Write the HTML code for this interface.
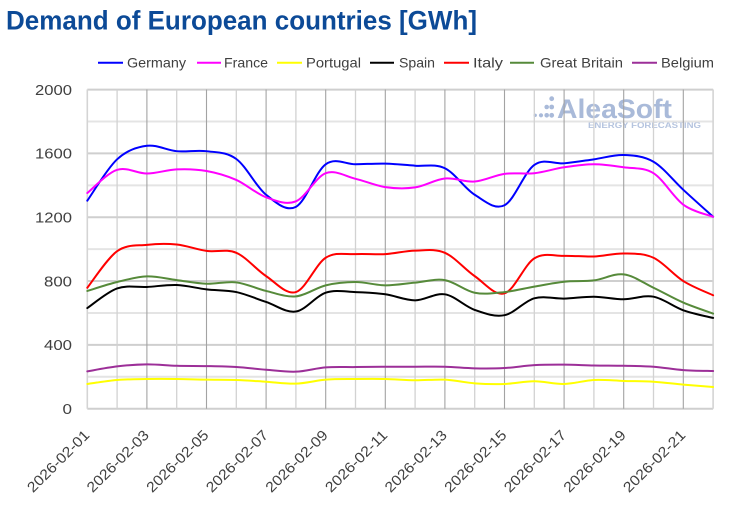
<!DOCTYPE html>
<html>
<head>
<meta charset="utf-8">
<style>
  html,body{margin:0;padding:0;background:#fff;}
  svg{display:block;}
  text{font-family:"Liberation Sans",Arial,sans-serif;}
</style>
</head>
<body>
<svg id="chart" width="730" height="509" viewBox="0 0 730 509" xmlns="http://www.w3.org/2000/svg">
  <rect x="0" y="0" width="730" height="509" fill="#ffffff"/>

  <!-- Title -->
  <text x="6" y="29.3" font-size="27" font-weight="bold" fill="#0c4a97" textLength="471" lengthAdjust="spacingAndGlyphs">Demand of European countries [GWh]</text>

  <!-- Legend -->
  <g font-size="14" fill="#404040">
    <line x1="98" y1="62.7" x2="123" y2="62.7" stroke="#0000ff" stroke-width="2"/>
    <text x="127" y="67.5" textLength="59" lengthAdjust="spacingAndGlyphs">Germany</text>
    <line x1="197" y1="62.7" x2="221" y2="62.7" stroke="#ff00ff" stroke-width="2"/>
    <text x="224" y="67.5" textLength="44" lengthAdjust="spacingAndGlyphs">France</text>
    <line x1="277" y1="62.7" x2="302" y2="62.7" stroke="#ffff00" stroke-width="2"/>
    <text x="306" y="67.5" textLength="55" lengthAdjust="spacingAndGlyphs">Portugal</text>
    <line x1="370" y1="62.7" x2="394" y2="62.7" stroke="#000000" stroke-width="2"/>
    <text x="399" y="67.5" textLength="36" lengthAdjust="spacingAndGlyphs">Spain</text>
    <line x1="444" y1="62.7" x2="469" y2="62.7" stroke="#ff0000" stroke-width="2"/>
    <text x="473" y="67.5" textLength="30" lengthAdjust="spacingAndGlyphs">Italy</text>
    <line x1="510" y1="62.7" x2="534" y2="62.7" stroke="#568a3a" stroke-width="2"/>
    <text x="540" y="67.5" textLength="83" lengthAdjust="spacingAndGlyphs">Great Britain</text>
    <line x1="632" y1="62.7" x2="657" y2="62.7" stroke="#9c2f98" stroke-width="2"/>
    <text x="661" y="67.5" textLength="53" lengthAdjust="spacingAndGlyphs">Belgium</text>
  </g>

  <!-- Watermark -->
  <g fill="#a9bad9">
    <circle cx="551.7" cy="98.7" r="2.4"/>
    <circle cx="546.7" cy="107" r="2.3"/>
    <circle cx="551.7" cy="107" r="2.4"/>
    <circle cx="535.2" cy="115.3" r="1.7"/>
    <circle cx="541" cy="115.3" r="2.1"/>
    <circle cx="546.7" cy="115.3" r="2.3"/>
    <circle cx="551.7" cy="115.3" r="2.4"/>
    <text x="557" y="118" font-size="27" font-weight="bold" textLength="115" lengthAdjust="spacingAndGlyphs">AleaSoft</text>
    <text x="588" y="128.2" font-size="8" font-weight="bold" fill="#b5c4df" textLength="113" lengthAdjust="spacingAndGlyphs">ENERGY FORECASTING</text>
  </g>

  <!-- Gridlines -->
  <g id="grid"></g>

  <!-- Y labels -->
  <g font-size="14.5" fill="#404040" text-anchor="end">
    <text x="72" y="95.2" textLength="37" lengthAdjust="spacingAndGlyphs">2000</text>
    <text x="72" y="158.6" textLength="37" lengthAdjust="spacingAndGlyphs">1600</text>
    <text x="72" y="222.5" textLength="37" lengthAdjust="spacingAndGlyphs">1200</text>
    <text x="72" y="286.3" textLength="28" lengthAdjust="spacingAndGlyphs">800</text>
    <text x="72" y="350.2" textLength="28" lengthAdjust="spacingAndGlyphs">400</text>
    <text x="72" y="414" textLength="9.5" lengthAdjust="spacingAndGlyphs">0</text>
  </g>

  <!-- X labels -->
  <g font-size="14.5" fill="#404040" text-anchor="end">
    <text transform="translate(90.3,436) rotate(-45)" textLength="81" lengthAdjust="spacingAndGlyphs">2026-02-01</text>
    <text transform="translate(149.9,436) rotate(-45)" textLength="81" lengthAdjust="spacingAndGlyphs">2026-02-03</text>
    <text transform="translate(209.5,436) rotate(-45)" textLength="81" lengthAdjust="spacingAndGlyphs">2026-02-05</text>
    <text transform="translate(269.1,436) rotate(-45)" textLength="81" lengthAdjust="spacingAndGlyphs">2026-02-07</text>
    <text transform="translate(328.7,436) rotate(-45)" textLength="81" lengthAdjust="spacingAndGlyphs">2026-02-09</text>
    <text transform="translate(388.3,436) rotate(-45)" textLength="81" lengthAdjust="spacingAndGlyphs">2026-02-11</text>
    <text transform="translate(447.9,436) rotate(-45)" textLength="81" lengthAdjust="spacingAndGlyphs">2026-02-13</text>
    <text transform="translate(507.5,436) rotate(-45)" textLength="81" lengthAdjust="spacingAndGlyphs">2026-02-15</text>
    <text transform="translate(567.1,436) rotate(-45)" textLength="81" lengthAdjust="spacingAndGlyphs">2026-02-17</text>
    <text transform="translate(626.7,436) rotate(-45)" textLength="81" lengthAdjust="spacingAndGlyphs">2026-02-19</text>
    <text transform="translate(686.3,436) rotate(-45)" textLength="81" lengthAdjust="spacingAndGlyphs">2026-02-21</text>
  </g>

  <!-- Series (data coordinates: x = day index, y = GWh) -->
  <g id="series" transform="translate(87.3,408.7) scale(29.8,-0.15955)" fill="none" stroke-width="2" stroke-linejoin="round" stroke-linecap="round">
    <polyline vector-effect="non-scaling-stroke" stroke="#0000ff" points="0,1304 1,1563 2,1648 3,1614 4,1614 5,1565 6,1341 7,1265 8,1532 9,1532 10,1536 11,1523 12,1507 13,1341 14,1275 15,1528 16,1538 17,1563 18,1590 19,1548 20,1372 21,1203"/>
    <polyline vector-effect="non-scaling-stroke" stroke="#ff00ff" points="0,1352 1,1497 2,1474 3,1500 4,1490 5,1434 6,1325 7,1300 8,1476 9,1441 10,1389 11,1387 12,1443 13,1424 14,1472 15,1476 16,1513 17,1532 18,1513 19,1476 20,1279 21,1203"/>
    <polyline vector-effect="non-scaling-stroke" stroke="#ffff00" points="0,155 1,180 2,186 3,186 4,182 5,180 6,169 7,157 8,182 9,186 10,186 11,178 12,182 13,159 14,155 15,172 16,155 17,180 18,174 19,169 20,151 21,136"/>
    <polyline vector-effect="non-scaling-stroke" stroke="#000000" points="0,631 1,754 2,763 3,775 4,748 5,731 6,669 7,609 8,727 9,731 10,717 11,679 12,717 13,619 14,586 15,692 16,690 17,702 18,686 19,702 20,617 21,569"/>
    <polyline vector-effect="non-scaling-stroke" stroke="#ff0000" points="0,758 1,987 2,1027 3,1029 4,989 5,977 6,831 7,731 8,946 9,969 10,969 11,991 12,977 13,831 14,723 15,942 16,958 17,954 18,973 19,946 20,800 21,711"/>
    <polyline vector-effect="non-scaling-stroke" stroke="#568a3a" points="0,738 1,794 2,829 3,806 4,783 5,792 6,738 7,704 8,773 9,794 10,773 11,790 12,806 13,727 14,731 15,765 16,796 17,804 18,842 19,758 20,665 21,596"/>
    <polyline vector-effect="non-scaling-stroke" stroke="#9c2f98" points="0,234 1,265 2,278 3,269 4,267 5,261 6,244 7,232 8,259 9,261 10,263 11,263 12,263 13,253 14,255 15,273 16,276 17,271 18,269 19,263 20,242 21,236"/>
  </g>
</svg>
<script>
(function(){
  var ns="http://www.w3.org/2000/svg";
  var g=document.getElementById("grid");
  function ln(x1,y1,x2,y2,c,w){var l=document.createElementNS(ns,"line");l.setAttribute("x1",x1);l.setAttribute("y1",y1);l.setAttribute("x2",x2);l.setAttribute("y2",y2);l.setAttribute("stroke",c);l.setAttribute("stroke-width",w);g.appendChild(l);}
  var x0=87.3,dx=29.8,y0=408.7,sy=0.15955;
  // horizontal
  for(var v=0;v<=2000;v+=200){
    var y=y0-v*sy;
    if(v%400===0) ln(x0,y,713.1,y,"#cfcfcf",2);
    else ln(x0,y,713.1,y,"#e4e4e4",2);
  }
  // vertical
  for(var d=0;d<=21;d++){
    var x=x0+d*dx;
    if(d===0||d===21) ln(x,89.5,x,408.7,"#d4d4d4",1.6);
    else if(d%2===0) ln(x,89.5,x,408.7,"#a3a3a3",1.1);
    else ln(x,89.5,x,408.7,"#d2d2d2",1.3);
  }
  // smooth series
  var s=document.getElementById("series");
  var pls=s.querySelectorAll("polyline");
  for(var i=0;i<pls.length;i++){
    var pl=pls[i];
    var pts=pl.getAttribute("points").trim().split(/\s+/).map(function(p){var a=p.split(",");return [+a[0],+a[1]];});
    var dstr="M"+pts[0][0]+","+pts[0][1];
    for(var k=0;k<pts.length-1;k++){
      var p0=pts[k-1]||pts[k],p1=pts[k],p2=pts[k+1],p3=pts[k+2]||pts[k+1];
      var c1x=p1[0]+(p2[0]-p0[0])/6,c1y=p1[1]+(p2[1]-p0[1])/6;
      var c2x=p2[0]-(p3[0]-p1[0])/6,c2y=p2[1]-(p3[1]-p1[1])/6;
      dstr+=" C"+c1x.toFixed(4)+","+c1y.toFixed(2)+" "+c2x.toFixed(4)+","+c2y.toFixed(2)+" "+p2[0]+","+p2[1];
    }
    var path=document.createElementNS(ns,"path");
    path.setAttribute("d",dstr);
    path.setAttribute("stroke",pl.getAttribute("stroke"));
    path.setAttribute("vector-effect","non-scaling-stroke");
    s.replaceChild(path,pl);
  }
})();
</script>
</body>
</html>
